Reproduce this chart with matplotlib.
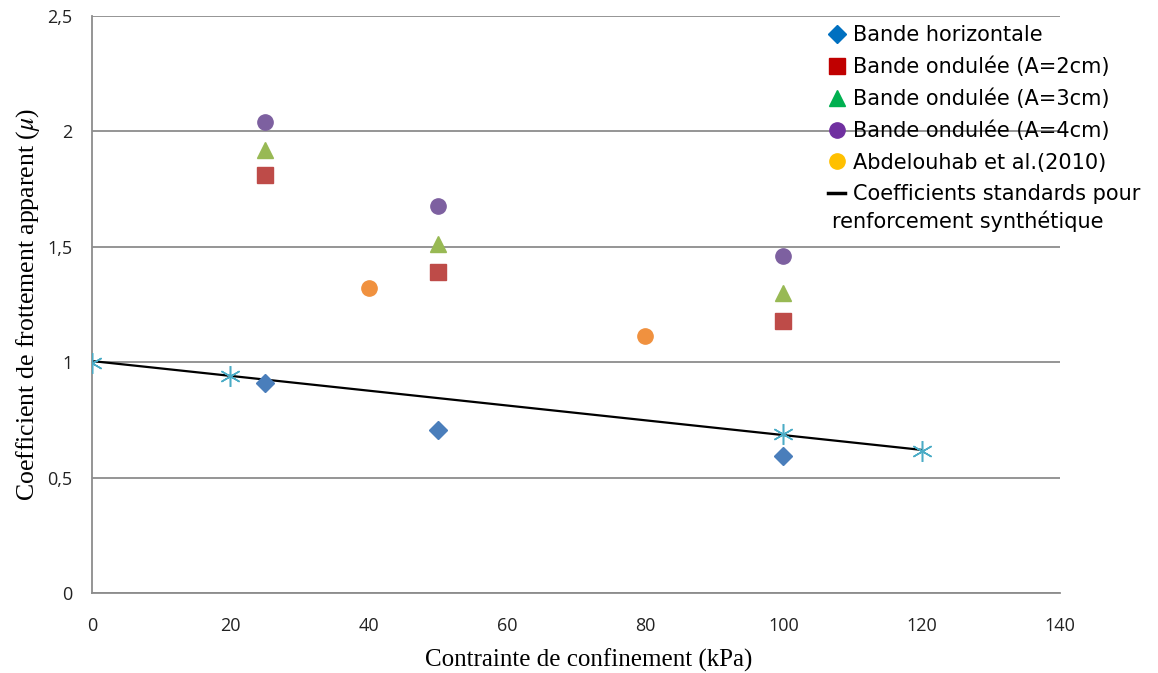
import matplotlib.pyplot as plt
from matplotlib.lines import Line2D
from matplotlib.ticker import FuncFormatter

# donnees
x_bandes = [25, 50, 100]
horizontale = [0.91, 0.705, 0.595]
ondulee_2cm = [1.81, 1.39, 1.18]
ondulee_3cm = [1.92, 1.51, 1.30]
ondulee_4cm = [2.04, 1.675, 1.46]

x_abdel = [40, 80]
abdel = [1.32, 1.115]

x_standard = [0, 20, 100, 120]
standard = [0.995, 0.94, 0.69, 0.615]
x_droite = [0, 120]
droite = [1.005, 0.62]

x_ticks = [0, 20, 40, 60, 80, 100, 120, 140]
y_ticks = [0, 0.5, 1, 1.5, 2, 2.5]

plt.rcParams['mathtext.fontset'] = 'stix'

fig = plt.figure(figsize=(11.58, 6.73), dpi=100)
ax = fig.add_axes([92 / 1158, 1 - 593 / 673, (1060 - 92) / 1158, (593 - 16) / 673])

gris = '#8c8c8c'
ax.set_xlim(0, 140)
ax.set_ylim(0, 2.5)
ax.set_xticks(x_ticks)
ax.set_yticks(y_ticks)
ax.yaxis.grid(True, color=gris, lw=1.3)
ax.set_axisbelow(True)
for s in ['top', 'right']:
    ax.spines[s].set_visible(False)
for s in ['left', 'bottom']:
    ax.spines[s].set_color(gris)
    ax.spines[s].set_linewidth(1.3)
ax.tick_params(length=0, labelsize=13, labelcolor='#222222')
ax.tick_params(axis='x', pad=17)
ax.tick_params(axis='y', pad=14)
for lab in ax.get_xticklabels() + ax.get_yticklabels():
    lab.set_family('Open Sans')
ax.yaxis.set_major_formatter(FuncFormatter(lambda v, p: ('%g' % v).replace('.', ',')))

# droite des coefficients standards
ax.plot(x_droite, droite, color='black', lw=1.6, zorder=3)
ax.plot(x_standard, standard, ls='none', marker=(6, 2, 0), ms=15, mew=1.1,
        color='#4BACC6', zorder=4)

ax.plot(x_bandes, horizontale, ls='none', marker='D', ms=9, color='#4A7EBB', zorder=5)
ax.plot(x_bandes, ondulee_2cm, ls='none', marker='s', ms=11, color='#BE4B48', zorder=5)
ax.plot(x_bandes, ondulee_3cm, ls='none', marker='^', ms=12, color='#98B954', zorder=5)
ax.plot(x_bandes, ondulee_4cm, ls='none', marker='o', ms=11, color='#7D60A0', zorder=5)
ax.plot(x_abdel, abdel, ls='none', marker='o', ms=11, color='#F0913F', zorder=5)

ax.set_xlabel('Contrainte de confinement (kPa)', family='Liberation Serif', fontsize=18)
ax.set_ylabel(r'Coefficient de frottement apparent ($\mu$)', family='Liberation Serif',
              fontsize=18.5)
ax.xaxis.set_label_coords(0.513, -0.097)
ax.yaxis.set_label_coords(-0.052, 0.5)

poignees = [
    Line2D([], [], ls='none', marker='D', ms=9, color='#0070C0'),
    Line2D([], [], ls='none', marker='s', ms=11, color='#C00000'),
    Line2D([], [], ls='none', marker='^', ms=12, color='#00B050'),
    Line2D([], [], ls='none', marker='o', ms=11, color='#7030A0'),
    Line2D([], [], ls='none', marker='o', ms=11, color='#FFC000'),
    Line2D([], [], color='black', lw=2.5),
]
etiquettes = ['Bande horizontale', 'Bande ondulée (A=2cm)', 'Bande ondulée (A=3cm)',
              'Bande ondulée (A=4cm)', 'Abdelouhab et al.(2010)',
              'Coefficients standards pour']
leg = fig.legend(poignees, etiquettes, loc='upper left', bbox_to_anchor=(818 / 1158, 1 - 15 / 673),
                 frameon=False, borderpad=0, handlelength=0.8, handletextpad=0.4,
                 labelspacing=0.55, prop={'family': 'DejaVu Sans', 'size': 15})
fig.text(832 / 1158, 1 - 221 / 673, 'renforcement synthétique', family='DejaVu Sans',
         fontsize=15, va='center', ha='left')

fig.savefig('out.png', dpi=100)
